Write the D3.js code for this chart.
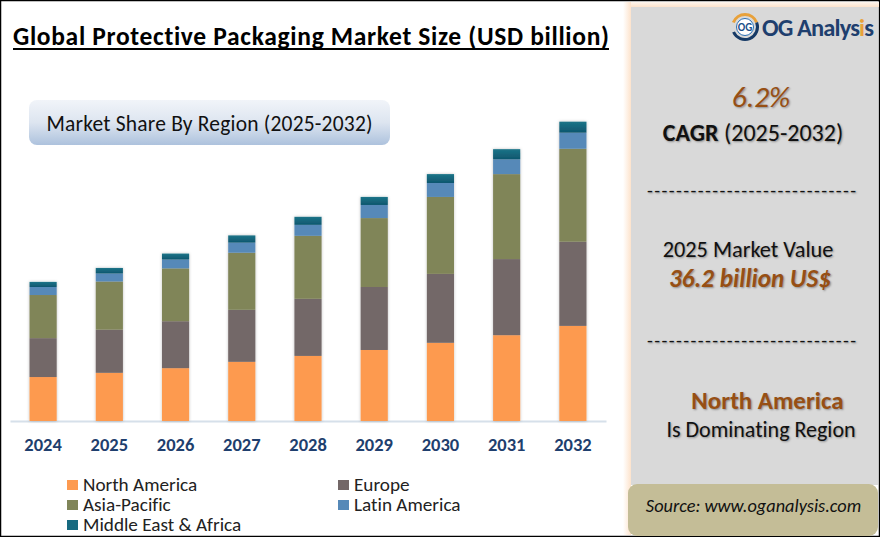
<!DOCTYPE html>
<html>
<head>
<meta charset="UTF-8"/>
<title>Global Protective Packaging Market Size</title>
<script src="https://d3js.org/d3.v7.min.js"></script>
<style>
	html, body { margin: 0; padding: 0; background: #fff; }
	svg { display: block; }
	text { font-family: Carlito, Lato, sans-serif; fill: #111; font-variant-ligatures: none; }
	.soft { text-shadow: 1px 1px 2px rgba(0,0,0,.35); }
	.brown { fill: #974f14; }
	.axis text { font-family: Carlito, Lato, sans-serif; font-size: 18.5px; font-weight: 700; fill: #1f3f6e; }
	.axis path { stroke: #d6e0ea; stroke-width: 2; }
</style>
</head>
<body>
<svg id="chart" width="880" height="537"></svg>
<script>
	const years = ['2024', '2025', '2026', '2027', '2028', '2029', '2030', '2031', '2032'];
	const regions = ['North America', 'Europe', 'Asia-Pacific', 'Latin America', 'Middle East & Africa'];

	// USD billion
	const northAmerica = [10.4, 11.4, 12.5, 14.0, 15.4, 16.8, 18.5, 20.3, 22.5];
	const europe = [9.2, 10.2, 11.1, 12.3, 13.5, 14.9, 16.3, 18.0, 19.9];
	const asiaPacific = [10.2, 11.4, 12.5, 13.5, 14.9, 16.3, 18.2, 20.1, 22.0];
	const latinAmerica = [1.9, 1.9, 2.1, 2.4, 2.6, 3.1, 3.3, 3.5, 3.8];
	const middleEast = [1.2, 1.3, 1.4, 1.7, 1.9, 1.9, 2.1, 2.4, 2.6];

	const colors = ['#fd9a50', '#736767', '#808559', '#5689b8', 'url(#teal)'];
	const swatches = ['#fd9a50', '#736767', '#808559', '#5689b8', '#176a80'];

	const svg = d3.select('#chart');
	const defs = svg.append('defs');

	function vGradient(id, stops, horizontal) {
		const g = defs.append('linearGradient').attr('id', id)
			.attr('x1', 0).attr('x2', horizontal ? 1 : 0).attr('y1', 0).attr('y2', horizontal ? 0 : 1);
		stops.forEach((s, i) => g.append('stop').attr('offset', i / (stops.length - 1)).attr('stop-color', s));
	}
	vGradient('teal', ['#1c7488', '#0e566e']);
	vGradient('pill', ['#f1f4f9', '#dde5f0', '#adc2dd']);
	vGradient('peach', ['#ffffff', '#fde3cc'], true);
	vGradient('peachTop', ['#fdf6ef', '#fde3cc']);

	const barShadow = defs.append('filter').attr('id', 'barShadow')
		.attr('x', '-20%').attr('width', '140%');
	barShadow.append('feDropShadow').attr('dx', 0).attr('dy', 0)
		.attr('stdDeviation', 1.5).attr('flood-color', '#000').attr('flood-opacity', 0.25);

	// outer frame
	svg.append('rect').attr('x', 0.5).attr('y', 0.5).attr('width', 879).attr('height', 536)
		.attr('fill', '#fff').attr('stroke', '#000').attr('stroke-width', 1.5);

	// title
	svg.append('text').attr('x', 13).attr('y', 45)
		.style('font-size', '25.5px').style('font-weight', 700).style('fill', '#000')
		.attr('textLength', 596).text('Global Protective Packaging Market Size (USD billion)');
	svg.append('rect').attr('x', 13).attr('y', 48).attr('width', 596).attr('height', 2).attr('fill', '#000');

	// subtitle pill
	svg.append('rect').attr('x', 29).attr('y', 100).attr('width', 361).attr('height', 45).attr('rx', 8)
		.attr('fill', 'url(#pill)');
	svg.append('text').attr('x', 209.5).attr('y', 131).attr('text-anchor', 'middle')
		.style('font-size', '21.5px').attr('textLength', 326).text('Market Share By Region (2025-2032)');

	// stacked bars
	const x = d3.scaleBand().domain(years).range([10, 606]).paddingInner(0.59).paddingOuter(0.295);
	const y = d3.scaleLinear().domain([0, 80]).range([421, 82.8]);

	const table = years.map((year, i) => ({
		year,
		'North America': northAmerica[i],
		'Europe': europe[i],
		'Asia-Pacific': asiaPacific[i],
		'Latin America': latinAmerica[i],
		'Middle East & Africa': middleEast[i]
	}));
	const layers = d3.stack().keys(regions)(table);

	const axis = svg.append('g').attr('class', 'axis').attr('transform', 'translate(0,421)')
		.call(d3.axisBottom(x).tickSize(0).tickPadding(17));

	svg.append('g').attr('filter', 'url(#barShadow)')
		.selectAll('g').data(layers).join('g')
		.attr('fill', (d, i) => colors[i])
		.selectAll('rect').data(d => d).join('rect')
		.attr('x', d => x(d.data.year))
		.attr('y', d => y(d[1]))
		.attr('width', x.bandwidth())
		.attr('height', d => y(d[0]) - y(d[1]));

	// legend
	const legendX = [67, 338];
	const legendY = [485, 505, 525];
	const legendPos = [[0, 0], [1, 0], [0, 1], [1, 1], [0, 2]];
	const legend = svg.append('g').selectAll('g').data(regions).join('g')
		.attr('transform', (d, i) => `translate(${legendX[legendPos[i][0]]},${legendY[legendPos[i][1]]})`);
	legend.append('rect').attr('x', 0).attr('y', -5).attr('width', 11).attr('height', 10)
		.attr('fill', (d, i) => swatches[i]);
	legend.append('text').attr('x', 16).attr('y', 6).style('font-size', '19.2px').style('fill', '#222').text(d => d);

	// right panel
	svg.append('rect').attr('x', 623).attr('y', 2).attr('width', 8).attr('height', 533).attr('fill', 'url(#peach)');
	svg.append('rect').attr('x', 631).attr('y', 2).attr('width', 248).attr('height', 5).attr('fill', 'url(#peachTop)');
	svg.append('rect').attr('x', 631).attr('y', 7).attr('width', 247).attr('height', 478).attr('fill', '#d9d9d9');
	svg.append('rect').attr('x', 628).attr('y', 484).attr('width', 250).attr('height', 52).attr('rx', 9).attr('fill', '#c4bd97');

	// logo
	const logo = svg.append('g').attr('transform', 'translate(745,27)');
	const arc = d3.arc().innerRadius(11).outerRadius(14);
	logo.append('path').attr('d', arc({ startAngle: -1.2, endAngle: 1.2 })).attr('fill', '#e8a13a');
	logo.append('path').attr('d', arc({ startAngle: 1.2, endAngle: 4.3 })).attr('fill', '#163a66');
	logo.append('circle').attr('r', 8.5).attr('fill', '#fff').attr('stroke', '#2a6fb5').attr('stroke-width', 1);
	logo.append('text').attr('y', 4).attr('text-anchor', 'middle')
		.style('font-size', '11px').style('font-weight', 700).style('fill', '#1b4f8a').text('OG');
	const logoText = svg.append('text').attr('x', 762).attr('y', 36)
		.style('font-size', '24.5px').style('font-weight', 700).style('fill', '#1f3f6e').attr('textLength', 112);
	logoText.append('tspan').style('fill', '#1f3f6e').text('OG Analys');
	logoText.append('tspan').style('fill', '#e8a13a').text('i');
	logoText.append('tspan').style('fill', '#1f3f6e').text('s');

	// panel texts
	svg.append('text').attr('class', 'soft brown').attr('x', 761).attr('y', 107).attr('text-anchor', 'middle')
		.style('font-size', '29.5px').style('font-style', 'italic').text('6.2%');
	const cagr = svg.append('text').attr('class', 'soft').attr('x', 753).attr('y', 141).attr('text-anchor', 'middle')
		.style('font-size', '24px');
	cagr.append('tspan').style('font-weight', 700).text('CAGR');
	cagr.append('tspan').text(' (2025-2032)');

	svg.append('text').attr('class', 'soft').attr('x', 751.5).attr('y', 197).attr('text-anchor', 'middle')
		.style('font-size', '19px').attr('textLength', 209).text('-----------------------------');
	svg.append('text').attr('class', 'soft').attr('x', 748).attr('y', 257).attr('text-anchor', 'middle')
		.style('font-size', '22.3px').text('2025 Market Value');
	svg.append('text').attr('class', 'soft brown').attr('x', 750).attr('y', 287).attr('text-anchor', 'middle')
		.style('font-size', '25.2px').style('font-weight', 700).style('font-style', 'italic').text('36.2 billion US$');
	svg.append('text').attr('class', 'soft').attr('x', 751.5).attr('y', 347).attr('text-anchor', 'middle')
		.style('font-size', '19px').attr('textLength', 209).text('-----------------------------');
	svg.append('text').attr('class', 'soft brown').attr('x', 767.5).attr('y', 409).attr('text-anchor', 'middle')
		.style('font-size', '25px').style('font-weight', 700).text('North America');
	svg.append('text').attr('class', 'soft').attr('x', 761).attr('y', 437).attr('text-anchor', 'middle')
		.style('font-size', '22px').text('Is Dominating Region');
	svg.append('text').attr('x', 753.5).attr('y', 512).attr('text-anchor', 'middle')
		.style('font-size', '18.3px').style('font-style', 'italic').text('Source: www.oganalysis.com');
</script>
</body>
</html>
